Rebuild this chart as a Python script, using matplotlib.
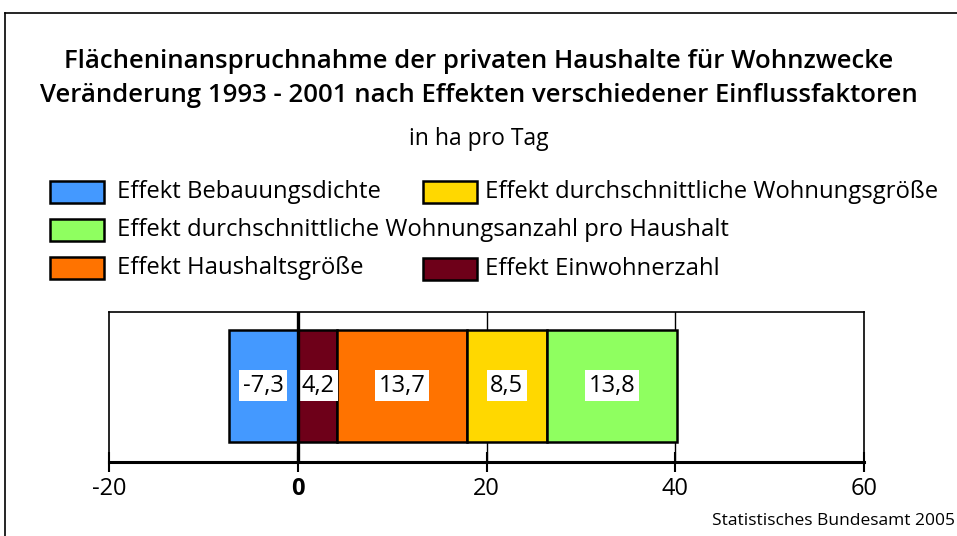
import matplotlib
matplotlib.use("Agg")
import matplotlib.pyplot as plt
from matplotlib.patches import Rectangle
from matplotlib.lines import Line2D

# -----------------------------
# DATA
# -----------------------------
effects = ["Effekt Bebauungsdichte", "Effekt Einwohnerzahl", "Effekt Haushaltsgröße",
           "Effekt durchschnittliche Wohnungsgröße",
           "Effekt durchschnittliche Wohnungsanzahl pro Haushalt"]
values = [-7.3, 4.2, 13.7, 8.5, 13.8]
colors = ["#4499ff", "#6e0019", "#ff7300", "#ffd800", "#8fff60"]
xticks = [-20, 0, 20, 40, 60]

plt.rcParams["font.family"] = ["Open Sans", "Noto Sans", "DejaVu Sans"]

W, H = 957, 536
fig = plt.figure(figsize=(W / 100, H / 100), dpi=100)

def fx(px):
    return px / W

def fy(py):
    return 1 - py / H

# outer frame (cut at right and bottom like the original)
fig.add_artist(Line2D([fx(5), 1], [fy(13), fy(13)], color="black", lw=1.2))
fig.add_artist(Line2D([fx(5), fx(5)], [fy(13), 0], color="black", lw=1.2))

# titles
fig.text(0.5, fy(61), "Flächeninanspruchnahme der privaten Haushalte für Wohnzwecke",
         ha="center", va="center", fontsize=18.5, fontweight="semibold")
fig.text(0.5, fy(96), "Veränderung 1993 - 2001 nach Effekten verschiedener Einflussfaktoren",
         ha="center", va="center", fontsize=18.5, fontweight="semibold")
fig.text(0.5, fy(139), "in ha pro Tag", ha="center", va="center", fontsize=16.5)

# -----------------------------
# BARS
# -----------------------------
ax = fig.add_axes([fx(109), fy(462), fx(864) - fx(109), (462 - 312) / H])
ax.set_xlim(-20, 60)
ax.set_ylim(0, 1)

left_pos = 0
left_neg = 0
for v, c in zip(values, colors):
    if v < 0:
        start = left_neg + v
        left_neg = start
    else:
        start = left_pos
        left_pos += v
    ax.barh(0.507, abs(v), left=start, height=0.747, color=c,
            edgecolor="black", linewidth=1.8, zorder=3)
    ax.text(start + abs(v) / 2, 0.507, f"{v:.1f}".replace(".", ","), ha="center",
            va="center", fontsize=17, zorder=4,
            bbox=dict(facecolor="white", edgecolor="none", pad=2.5))

for g in [20, 40]:
    ax.axvline(g, color="black", lw=1, zorder=1)
ax.axvline(0, color="black", lw=2.4, zorder=5)

ax.set_xticks(xticks)
ax.set_xticklabels([str(t) for t in xticks], fontsize=17)
ax.get_xticklabels()[1].set_fontweight("bold")
ax.set_yticks([])
ax.tick_params(axis="x", length=14, width=1.5, direction="inout", pad=4)
for s in ["top", "left", "right"]:
    ax.spines[s].set_linewidth(1.2)
ax.spines["bottom"].set_linewidth(2.2)

# -----------------------------
# LEGEND (manual layout)
# -----------------------------
legend_items = [
    (0, 50, 192, 117),
    (3, 423, 192, 485),
    (4, 50, 230, 117),
    (2, 50, 268, 117),
    (1, 423, 269, 485),
]
for idx, bx, cy, tx in legend_items:
    fig.add_artist(Rectangle((fx(bx), fy(cy + 11)), fx(54), 22 / H,
                             facecolor=colors[idx], edgecolor="black", lw=1.8))
    fig.text(fx(tx), fy(cy), effects[idx], ha="left", va="center", fontsize=17.2)

fig.text(fx(712), fy(521), "Statistisches Bundesamt 2005", ha="left", va="center",
         fontsize=12.5)

plt.savefig("out.png", dpi=100)
